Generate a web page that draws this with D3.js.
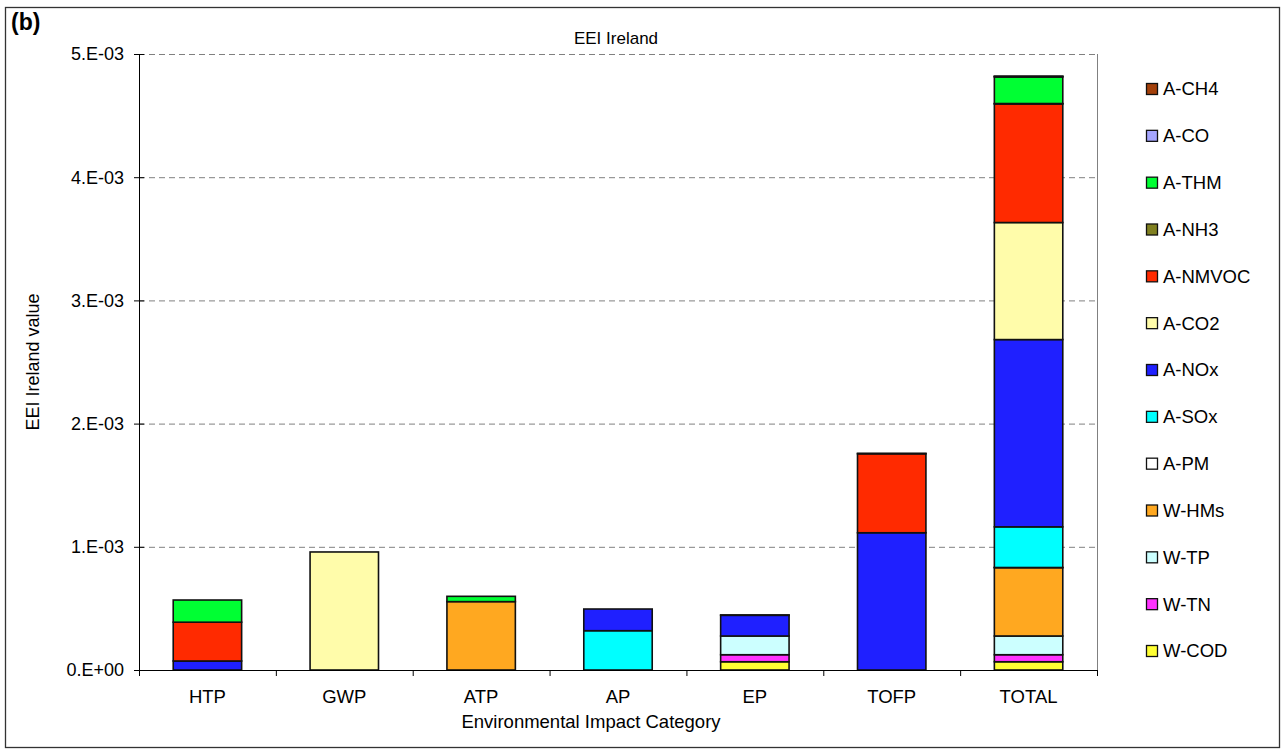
<!DOCTYPE html>
<html lang="en">
<head>
<meta charset="UTF-8">
<title>EEI Ireland</title>
<script src="https://cdn.jsdelivr.net/npm/d3@7/dist/d3.min.js"></script>
<style>
    body { margin: 0; background: #fff; }
    svg { font-family: "Liberation Sans", Arial, sans-serif; }
    .grid line { stroke: #808080; stroke-dasharray: 6 4; }
</style>
</head>
<body>
<svg></svg>
<script>
// categories on the x axis
const categories = ['HTP', 'GWP', 'ATP', 'AP', 'EP', 'TOFP', 'TOTAL'];
// series, bottom of stack first
const seriesNames = ['W-COD', 'W-TN', 'W-TP', 'W-HMs', 'A-PM', 'A-SOx', 'A-NOx', 'A-CO2', 'A-NMVOC', 'A-NH3', 'A-THM', 'A-CO', 'A-CH4'];
const seriesColors = ['#FFFF33', '#FF33FF', '#CCFFFF', '#FFA820', '#FFFFFF', '#00FFFF', '#1F20FF', '#FFFCAA', '#FF2A00', '#808020', '#00FF33', '#A6A6FF', '#A3400A'];

// values in units of 1E-3, per category
const wCOD   = [0,     0,     0,     0,     0.067, 0,     0.067];
const wTN    = [0,     0,     0,     0,     0.057, 0,     0.057];
const wTP    = [0,     0,     0,     0,     0.152, 0,     0.152];
const wHMs   = [0,     0,     0.555, 0,     0,     0,     0.555];
const aPM    = [0,     0,     0,     0,     0,     0,     0.001];
const aSOx   = [0,     0,     0,     0.319, 0,     0,     0.330];
const aNOx   = [0.073, 0,     0,     0.176, 0.168, 1.114, 1.520];
const aCO2   = [0,     0.958, 0,     0,     0,     0,     0.950];
const aNMVOC = [0.315, 0,     0,     0,     0,     0.641, 0.963];
const aNH3   = [0,     0,     0,     0,     0.003, 0,     0.003];
const aTHM   = [0.180, 0,     0.043, 0,     0,     0,     0.216];
const aCO    = [0,     0,     0,     0,     0,     0.004, 0.004];
const aCH4   = [0,     0,     0,     0,     0,     0,     0.002];
const seriesValues = [wCOD, wTN, wTP, wHMs, aPM, aSOx, aNOx, aCO2, aNMVOC, aNH3, aTHM, aCO, aCH4];

const yTicks = [0, 1, 2, 3, 4, 5];
const yTickLabels = ['0.E+00', '1.E-03', '2.E-03', '3.E-03', '4.E-03', '5.E-03'];

const W = 1281, H = 754;
const plot = { left: 139, right: 1097, top: 54, bottom: 670 };

const svg = d3.select('svg').attr('width', W).attr('height', H);

// outer frame
svg.append('rect')
    .attr('x', 5.5).attr('y', 7.5)
    .attr('width', 1274).attr('height', 740)
    .attr('fill', 'none').attr('stroke', '#333').attr('stroke-width', 1.3);

svg.append('text')
    .attr('x', 11).attr('y', 30)
    .attr('font-size', 23).attr('font-weight', 'bold')
    .text('(b)');

const x = d3.scaleBand()
    .domain(categories)
    .range([plot.left, plot.right])
    .paddingInner(0.5)
    .paddingOuter(0.25);

const xTickScale = d3.scaleLinear().domain([0, categories.length]).range([plot.left, plot.right]);

const y = d3.scaleLinear().domain([0, 5]).range([plot.bottom, plot.top]);

// grid lines
svg.append('g')
    .attr('class', 'grid')
    .selectAll('line')
    .data(yTicks.slice(1))
    .enter()
    .append('line')
    .attr('x1', plot.left).attr('x2', plot.right)
    .attr('y1', d => y(d) + 0.5).attr('y2', d => y(d) + 0.5);

// right border of plot area
svg.append('line')
    .attr('x1', plot.right + 0.5).attr('x2', plot.right + 0.5)
    .attr('y1', plot.top).attr('y2', plot.bottom)
    .attr('stroke', '#808080');

// stacked bars
const rows = categories.map((c, i) => {
    const r = { cat: c };
    seriesNames.forEach((s, j) => { r[s] = seriesValues[j][i]; });
    return r;
});
const stacked = d3.stack().keys(seriesNames)(rows);

svg.append('g')
    .selectAll('g')
    .data(stacked)
    .enter()
    .append('g')
    .attr('fill', (d, i) => seriesColors[i])
    .selectAll('rect')
    .data(d => d.filter(p => p[1] - p[0] > 0))
    .enter()
    .append('rect')
    .attr('x', d => x(d.data.cat))
    .attr('width', x.bandwidth())
    .attr('y', d => y(d[1]))
    .attr('height', d => y(d[0]) - y(d[1]))
    .attr('stroke', '#111')
    .attr('stroke-width', 1.6);

// y axis
const yAxis = svg.append('g');
yAxis.append('line')
    .attr('x1', plot.left + 0.5).attr('x2', plot.left + 0.5)
    .attr('y1', plot.top).attr('y2', plot.bottom)
    .attr('stroke', '#000');
yAxis.selectAll('.tick')
    .data(yTicks)
    .enter()
    .append('line')
    .attr('x1', plot.left - 5).attr('x2', plot.left + 5)
    .attr('y1', d => y(d) + 0.5).attr('y2', d => y(d) + 0.5)
    .attr('stroke', '#000');
yAxis.selectAll('text')
    .data(yTicks)
    .enter()
    .append('text')
    .attr('x', plot.left - 15)
    .attr('y', d => y(d))
    .attr('dy', '0.35em')
    .attr('text-anchor', 'end')
    .attr('font-size', 18)
    .text((d, i) => yTickLabels[i]);

// x axis
const xAxis = svg.append('g');
xAxis.append('line')
    .attr('x1', plot.left).attr('x2', plot.right)
    .attr('y1', plot.bottom + 0.5).attr('y2', plot.bottom + 0.5)
    .attr('stroke', '#000');
xAxis.selectAll('.tick')
    .data(d3.range(categories.length + 1))
    .enter()
    .append('line')
    .attr('x1', d => xTickScale(d) + 0.5).attr('x2', d => xTickScale(d) + 0.5)
    .attr('y1', plot.bottom).attr('y2', plot.bottom + 6)
    .attr('stroke', '#000');
xAxis.selectAll('text')
    .data(categories)
    .enter()
    .append('text')
    .attr('x', d => x(d) + x.bandwidth() / 2)
    .attr('y', 703)
    .attr('text-anchor', 'middle')
    .attr('font-size', 18.5)
    .text(d => d);

svg.append('text')
    .attr('x', 591).attr('y', 728)
    .attr('text-anchor', 'middle')
    .attr('font-size', 18.5)
    .text('Environmental Impact Category');

svg.append('text')
    .attr('x', 616).attr('y', 44)
    .attr('text-anchor', 'middle')
    .attr('font-size', 17)
    .text('EEI Ireland');

svg.append('text')
    .attr('transform', 'translate(39,362) rotate(-90)')
    .attr('text-anchor', 'middle')
    .attr('font-size', 18)
    .text('EEI Ireland value');

// legend, top of stack first
const legendItems = seriesNames.map((s, i) => ({ name: s, color: seriesColors[i] })).reverse();
const legend = svg.append('g');
const ly = d3.scalePoint().domain(legendItems.map(d => d.name)).range([89, 651]);
const li = legend.selectAll('g')
    .data(legendItems)
    .enter()
    .append('g')
    .attr('transform', d => `translate(1146,${ly(d.name)})`);
li.append('rect')
    .attr('x', 0.5).attr('y', -5.5)
    .attr('width', 11).attr('height', 11)
    .attr('fill', d => d.color)
    .attr('stroke', '#111').attr('stroke-width', 1.3);
li.append('text')
    .attr('x', 17).attr('dy', '0.35em')
    .attr('font-size', 18.5)
    .text(d => d.name);
</script>
</body>
</html>
